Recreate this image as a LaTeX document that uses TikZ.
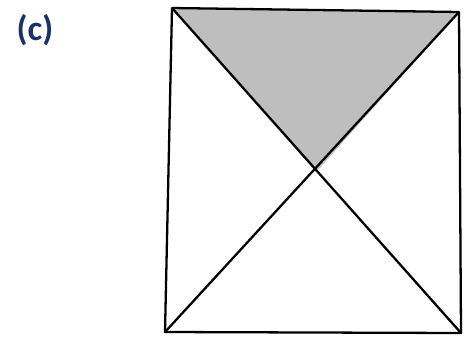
\documentclass[tikz,border=0pt]{standalone}
\usepackage{fontspec}
\setmainfont{Carlito}
\usetikzlibrary{calc}
\definecolor{LabelBlue}{RGB}{28,48,105}
\definecolor{ShadeGray}{RGB}{190,190,190}
\tikzset{
  edge/.style={line width=1.3pt,draw=black,line join=round},
  partlabel/.style={font=\bfseries\fontsize{20}{24}\selectfont,text=LabelBlue}
}
\begin{document}
\begin{tikzpicture}[x=0.02cm,y=-0.02cm]
  \useasboundingbox (0,0) rectangle (472,338);
  \fill[white] (0,0) rectangle (472,338);

  \coordinate (tl) at (172,8);
  \coordinate (tr) at (459,12);
  \coordinate (bl) at (165,332);
  \coordinate (br) at (461,333);
  \coordinate (mid) at (316,172);

  \fill[ShadeGray] (tl) -- (tr) -- (mid) -- cycle;
  \draw[edge] (tl) -- (tr) -- (br) -- (bl) -- cycle;
  \draw[edge] (tl) -- (br);
  \draw[edge] (tr) -- (bl);

  \node[partlabel] (lab) at (35,30) {(c)};
\end{tikzpicture}
\end{document}
